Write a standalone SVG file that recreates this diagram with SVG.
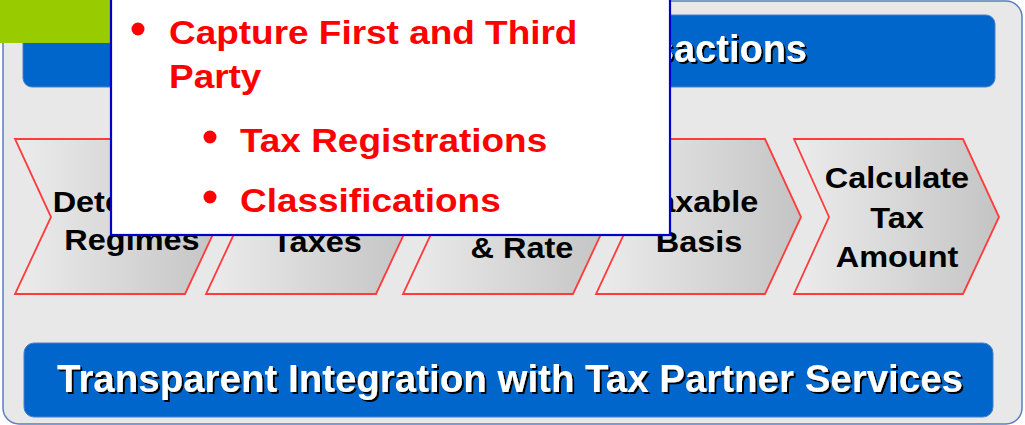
<svg xmlns="http://www.w3.org/2000/svg" width="1025" height="425" viewBox="0 0 1025 425">
  <defs>
    <linearGradient id="chevGrad" x1="0" y1="0" x2="1" y2="0">
      <stop offset="0" stop-color="#ececec"/>
      <stop offset="1" stop-color="#c4c4c4"/>
    </linearGradient>
    <filter id="shadow" x="-5%" y="-20%" width="110%" height="150%">
      <feDropShadow dx="2" dy="2" stdDeviation="0.6" flood-color="#000" flood-opacity="1"/>
    </filter>
    <style>
      .container { fill: #e8e8e8; stroke: #5b7cbf; stroke-width: 1.5; }
      .bar { fill: #0066cc; stroke: #4d7fc4; stroke-width: 1; }
      .barText { font-family: "Liberation Sans", Arial, sans-serif; font-weight: bold; font-size: 38px; fill: #ffffff; filter: url(#shadow); }
      .chev { fill: url(#chevGrad); stroke: #ff3b3b; stroke-width: 1.8; stroke-linejoin: miter; }
      .chevText { font-family: "Liberation Sans", Arial, sans-serif; font-weight: bold; font-size: 29px; fill: #000000; text-anchor: middle; }
      .popup { fill: #ffffff; stroke: #0000cc; stroke-width: 2.2; }
      .popText { font-family: "Liberation Sans", Arial, sans-serif; font-weight: bold; font-size: 33px; fill: #ff0000; }
      .bullet { fill: #ff0000; }
    </style>
  </defs>

  <rect x="0" y="0" width="1025" height="425" fill="#ffffff"/>

  <g id="container">
    <rect class="container" x="3" y="1" width="1019" height="423" rx="16" ry="16"/>
  </g>

  <g id="top-bar">
    <rect class="bar" x="23" y="15" width="972" height="72" rx="9" ry="9"/>
    <text class="barText" x="807" y="62" text-anchor="end">Transactions</text>
  </g>

  <g id="bottom-bar">
    <rect class="bar" x="24" y="343" width="969" height="74" rx="10" ry="10"/>
    <text class="barText" x="57" y="392" textLength="906" lengthAdjust="spacingAndGlyphs">Transparent Integration with Tax Partner Services</text>
  </g>

  <g id="chevron-1">
    <polygon class="chev" points="15,139 185,139 221,217 185,294 15,294 51,217"/>
    <text class="chevText" transform="translate(132,212) scale(1.12,1)">Determine</text>
    <text class="chevText" transform="translate(132,250) scale(1.12,1)">Regimes</text>
  </g>

  <g id="chevron-2">
    <polygon class="chev" points="206,139 376,139 412,217 376,294 206,294 242,217"/>
    <text class="chevText" transform="translate(317,252) scale(1.12,1)">Taxes</text>
  </g>

  <g id="chevron-3">
    <polygon class="chev" points="403,139 573,139 609,217 573,294 403,294 439,217"/>
    <text class="chevText" transform="translate(522,258) scale(1.12,1)">&amp; Rate</text>
  </g>

  <g id="chevron-4">
    <polygon class="chev" points="596,139 765,139 801,217 765,294 596,294 632,217"/>
    <text class="chevText" transform="translate(699,212) scale(1.12,1)">Taxable</text>
    <text class="chevText" transform="translate(699,252) scale(1.12,1)">Basis</text>
  </g>

  <g id="chevron-5">
    <polygon class="chev" points="794,139 963,139 999,217 963,294 794,294 829,217"/>
    <text class="chevText" transform="translate(897,188) scale(1.12,1)">Calculate</text>
    <text class="chevText" transform="translate(897,228) scale(1.12,1)">Tax</text>
    <text class="chevText" transform="translate(897,267) scale(1.12,1)">Amount</text>
  </g>

  <g id="connectors"/>

  <g id="green-tab">
    <rect x="0" y="0" width="110" height="43" fill="#99cc00"/>
  </g>

  <g id="popup">
    <rect class="popup" x="111" y="-5" width="559" height="240"/>
    <circle class="bullet" cx="138" cy="29" r="6.5"/>
    <text class="popText" transform="translate(169,44) scale(1.12,1)">Capture First and Third</text>
    <text class="popText" transform="translate(169,88) scale(1.12,1)">Party</text>
    <circle class="bullet" cx="210" cy="137" r="6.5"/>
    <text class="popText" transform="translate(240,152) scale(1.12,1)">Tax Registrations</text>
    <circle class="bullet" cx="210" cy="197" r="6.5"/>
    <text class="popText" transform="translate(240,212) scale(1.12,1)">Classifications</text>
  </g>
</svg>
